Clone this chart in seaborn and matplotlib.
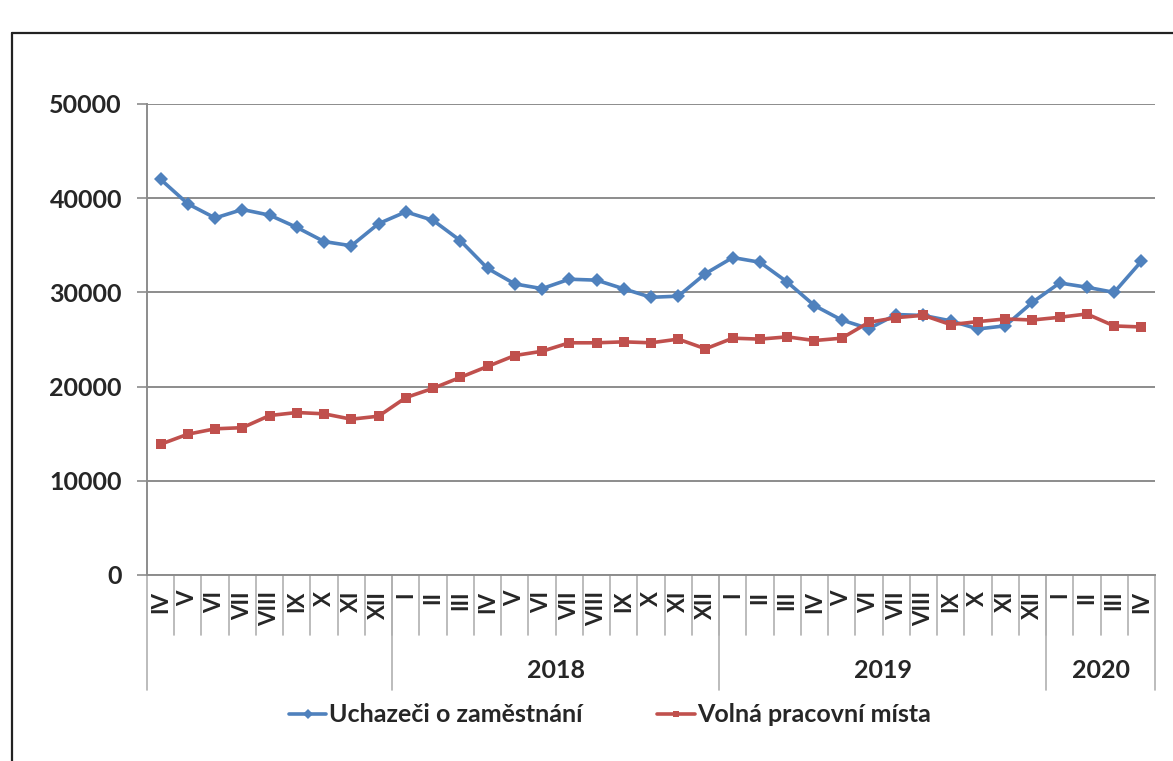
import numpy as np
import pandas as pd
import matplotlib
matplotlib.use("Agg")
import matplotlib.pyplot as plt
import matplotlib.transforms as mtransforms
import seaborn as sns

months = ["IV", "V", "VI", "VII", "VIII", "IX", "X", "XI", "XII",
          "I", "II", "III", "IV", "V", "VI", "VII", "VIII", "IX", "X", "XI", "XII",
          "I", "II", "III", "IV", "V", "VI", "VII", "VIII", "IX", "X", "XI", "XII",
          "I", "II", "III", "IV"]
years = ["", "2018", "2019", "2020"]
year_sizes = [9, 12, 12, 4]

uchazeci = [42000, 39400, 37900, 38800, 38200, 36900, 35400, 34950, 37300,
            38550, 37650, 35500, 32550, 30900, 30400, 31400, 31300, 30380, 29480, 29600, 32000,
            33700, 33200, 31100, 28600, 27070, 26150, 27650, 27550, 26980, 26120, 26450, 28950,
            31000, 30550, 30000, 33300]
volna_mista = [13880, 14950, 15520, 15640, 16930, 17250, 17110, 16540, 16860,
               18830, 19820, 20980, 22140, 23300, 23750, 24650, 24650, 24750, 24650, 25040, 24010,
               25140, 25040, 25280, 24890, 25140, 26830, 27320, 27570, 26580, 26900, 27180, 27070,
               27360, 27710, 26440, 26330]
series_names = ["Uchazeči o zaměstnání", "Volná pracovní místa"]

sns.set_style("white")
plt.rcParams["font.family"] = ["Lato", "DejaVu Sans"]
plt.rcParams["font.weight"] = "bold"

n = len(months)
df = pd.DataFrame({
    "pos": list(range(n)) * 2,
    "value": uchazeci + volna_mista,
    "series": [series_names[0]] * n + [series_names[1]] * n,
})

fig = plt.figure(figsize=(11.73, 7.61), dpi=100)
ax = fig.add_axes([147 / 1173, 1 - 575 / 761, (1155 - 147) / 1173, (575 - 104) / 761])

sns.lineplot(data=df, x="pos", y="value", hue="series", style="series",
             palette=["#4F81BD", "#C0504D"], markers=["D", "s"], dashes=False,
             markersize=7, linewidth=2.6, markeredgewidth=0, ax=ax)

ax.set_xlim(-0.5, n - 0.5)
ax.set_ylim(0, 50000)
ax.set_yticks(np.arange(0, 50001, 10000))
ax.set_yticklabels([str(v) for v in range(0, 50001, 10000)], fontsize=18, fontweight="bold")
ax.tick_params(axis="y", length=7, width=1.2, color="#8c8c8c", pad=11, left=True)
ax.set_xticks([])
ax.set_xlabel("")
ax.set_ylabel("")
ax.grid(axis="y", color="#8c8c8c", linewidth=1.4)
for side in ["top", "right"]:
    ax.spines[side].set_visible(False)
for side in ["left", "bottom"]:
    ax.spines[side].set_color("#8c8c8c")
    ax.spines[side].set_linewidth(1.4)

# two-level category axis
trans = mtransforms.blended_transform_factory(ax.transData, ax.transAxes)
h = 575 - 104
for i, m in enumerate(months):
    ax.text(i, -16 / h, m, transform=trans, rotation=90, ha="center", va="top",
            fontsize=16, fontweight="bold")
for k in range(1, n):
    ax.plot([k - 0.5, k - 0.5], [0, -60 / h], transform=trans, color="#b0b0b0",
            linewidth=1.2, clip_on=False)
bounds = np.concatenate([[0], np.cumsum(year_sizes)]) - 0.5
for b in bounds:
    ax.plot([b, b], [0, -115 / h], transform=trans, color="#b0b0b0",
            linewidth=1.2, clip_on=False)
for y, a, b in zip(years, bounds[:-1], bounds[1:]):
    ax.text((a + b) / 2, -96 / h, y, transform=trans, ha="center", va="center",
            fontsize=18, fontweight="bold")

# legend
handles, labels = ax.get_legend_handles_labels()
for hd in handles:
    hd.set_markersize(5)
ax.get_legend().remove()
fig.legend(handles, labels, loc="center", bbox_to_anchor=(0.52, 1 - 715 / 761),
           ncol=2, frameon=False, handlelength=1.5, handletextpad=0.1,
           columnspacing=3.0, prop={"size": 18, "weight": "bold"})

# outer frame
fig.add_artist(plt.Line2D([12 / 1173, 12 / 1173], [0, 1 - 33 / 761],
                          transform=fig.transFigure, color="#222222", linewidth=1.6))
fig.add_artist(plt.Line2D([12 / 1173, 1], [1 - 33 / 761, 1 - 33 / 761],
                          transform=fig.transFigure, color="#222222", linewidth=1.6))

fig.savefig("out.png", dpi=100)
